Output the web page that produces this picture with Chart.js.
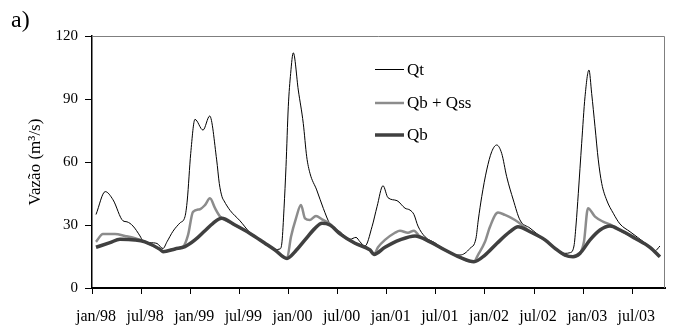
<!DOCTYPE html>
<html>
<head>
<meta charset="utf-8">
<script src="https://cdn.jsdelivr.net/npm/chart.js@4/dist/chart.umd.min.js"></script>
<style>
    body { margin: 0; background: #fff; }
    canvas { display: block; }
</style>
</head>
<body>
<canvas id="flowChart" width="674" height="335"></canvas>
<script>
// x is months since jan/98 (0 = start of jan/98), y is flow in m3/s
const tickMonths = [0, 6, 12, 18, 24, 30, 36, 42, 48, 54, 60, 66];
const tickLabels = ['jan/98', 'jul/98', 'jan/99', 'jul/99', 'jan/00', 'jul/00',
                    'jan/01', 'jul/01', 'jan/02', 'jul/02', 'jan/03', 'jul/03'];
const yTicks = [0, 30, 60, 90, 120];

const qtPoints = [
    [0.49, 35], [1.62, 45.9], [2.57, 42], [3.79, 32], [4.28, 31.5], [5.01, 29.5], [5.86, 24.8],
    [6.23, 22.4], [7.09, 21.6], [7.94, 21.2], [8.67, 18.8], [9.16, 22], [9.89, 27], [10.75, 31],
    [11.36, 34], [11.64, 41.9], [12.06, 64.1], [12.58, 80.3], [13.56, 75.2], [14.38, 81.9],
    [15.23, 61], [15.55, 49.8], [15.88, 43.5], [16.13, 41.5], [16.86, 37], [18.08, 32],
    [19.3, 26.4], [21.13, 21.5], [22.36, 18.3], [22.97, 18.6], [23.21, 22], [23.46, 38],
    [23.7, 57.8], [23.98, 86.3], [24.27, 102.2], [24.59, 112], [25.2, 94.3], [25.81, 78.4],
    [26.23, 62.5], [26.63, 54.6], [27.45, 46.7], [28.26, 37.9], [29.07, 30.5], [30.3, 26.8],
    [31.52, 23.2], [32.25, 24.1], [32.74, 22], [33.35, 20], [34.21, 29.2], [34.82, 38.7],
    [35.55, 48.7], [36.16, 43], [37.26, 41.6], [38.24, 38], [38.85, 37.1], [39.33, 35],
    [39.82, 29.5], [40.68, 24.4], [41.9, 21.5], [43.73, 16.5], [44.96, 15.7], [46.18, 18.9],
    [46.91, 23.7], [47.19, 32.4], [47.61, 43.5], [48.22, 56.2], [48.83, 64.9], [49.44, 68.1],
    [50.05, 64.1], [50.66, 53], [51.47, 41.9], [52.28, 32.4], [53.51, 28.5], [55.34, 22.8],
    [57.17, 17.5], [57.78, 16.5], [58.39, 16.8], [58.88, 20], [59.13, 30], [59.41, 45.1],
    [59.82, 68.9], [60.23, 91.1], [60.71, 103.8], [61.04, 92.7], [61.45, 76.8], [61.85, 61],
    [62.27, 49.8], [62.87, 41.9], [63.68, 35.6], [64.5, 30.5], [65.73, 26.8], [67.55, 21.5],
    [68.77, 17.7], [69.38, 20]
];

const qbQssPoints = [
    [0.49, 22], [1.34, 25.7], [2.81, 25.7], [4.03, 24.8], [5.25, 23.7], [6.47, 22], [8.31, 18.4],
    [8.67, 17.3], [10.14, 18.6], [11.12, 19.6], [11.73, 25.2], [12.34, 36.3], [13.19, 37.5],
    [13.8, 39.5], [14.41, 42.7], [15.03, 38], [15.64, 34], [15.88, 33.2], [17.47, 30], [19.3, 26],
    [21.13, 21.3], [22.36, 18.1], [23.82, 14.1], [24.31, 24.4], [24.92, 33.2], [25.53, 39.5],
    [26.02, 33.2], [26.63, 32.4], [27.36, 34.3], [28.1, 32.7], [29.07, 30.5], [30.3, 25.8],
    [32.13, 21.3], [33.96, 18.1], [34.45, 16], [34.94, 19.4], [35.79, 22.9], [37.01, 26.3],
    [37.62, 27.3], [38.6, 26.3], [39.33, 27.3], [40.07, 24.4], [41.29, 22], [43.12, 18.1],
    [44.96, 14.6], [46.66, 12.5], [47.15, 15.7], [48.01, 22], [48.62, 29.2], [49.6, 35.9],
    [50.45, 34.8], [51.67, 32.4], [52.53, 30], [53.51, 26.8], [55.34, 22.9], [56.56, 18.9],
    [57.78, 15.7], [58.76, 14.9], [59.61, 16.5], [60.1, 22], [60.59, 38], [61.45, 34],
    [62.43, 31.6], [63.28, 30.3], [64.5, 27.6], [66.33, 23.7], [68.16, 19.4], [69.38, 14.9]
];

const qbPoints = [
    [0.49, 19.4], [2.2, 21.6], [3.42, 23.2], [5.25, 22.9], [6.47, 22], [8.31, 18.4], [8.67, 17.3],
    [10.14, 18.6], [11.36, 19.7], [12.58, 22.9], [13.8, 27.3], [14.78, 30.8], [15.84, 33.2],
    [17.47, 30], [19.3, 26], [21.13, 21.3], [22.36, 18.1], [23.82, 14.1], [24.8, 17.3],
    [26.02, 22.9], [27.24, 28.4], [28.1, 30.8], [29.07, 30], [30.3, 25.8], [32.13, 21.3],
    [33.96, 18.1], [34.45, 16], [35.79, 19.4], [37.62, 22.9], [39.46, 24.8], [41.29, 22],
    [43.12, 18.1], [44.96, 14.6], [46.66, 12.5], [48.01, 15.7], [49.48, 21.3], [51.06, 26.8],
    [52.04, 29.2], [53.51, 26.8], [55.34, 22.9], [56.56, 18.9], [57.78, 15.7], [58.76, 14.9],
    [59.61, 16.5], [60.84, 22.9], [62.06, 27.6], [63.28, 29.5], [64.5, 27.6], [66.33, 23.7],
    [68.16, 19.4], [69.38, 14.9]
];

const serif = "'Liberation Serif', 'Times New Roman', serif";
const toXY = pts => pts.map(p => ({ x: p[0], y: p[1] }));

// frame (top/right), inner legend and panel label
const decorPlugin = {
    id: 'decor',
    afterDraw(chart) {
        const { ctx, chartArea: a } = chart;
        ctx.save();
        ctx.strokeStyle = '#7f7f7f';
        ctx.lineWidth = 1;
        ctx.beginPath();
        ctx.moveTo(a.left, a.top + 0.5);
        ctx.lineTo(a.right - 0.5, a.top + 0.5);
        ctx.lineTo(a.right - 0.5, a.bottom);
        ctx.stroke();

        const rows = [69.5, 103, 135];
        chart.data.datasets.forEach((ds, i) => {
            ctx.strokeStyle = ds.borderColor;
            ctx.lineWidth = ds.borderWidth;
            ctx.beginPath();
            ctx.moveTo(375, rows[i]);
            ctx.lineTo(404, rows[i]);
            ctx.stroke();
            ctx.fillStyle = '#000';
            ctx.font = '17px ' + serif;
            ctx.textBaseline = 'middle';
            ctx.fillText(ds.label, 407, Math.round(rows[i]) + 1);
        });

        ctx.font = '24px ' + serif;
        ctx.textBaseline = 'middle';
        ctx.fillText('a)', 11, 21);
        ctx.restore();
    }
};

new Chart(document.getElementById('flowChart'), {
    type: 'line',
    data: {
        datasets: [
            { label: 'Qt', data: toXY(qtPoints), borderColor: '#000000', borderWidth: 1, order: 2 },
            { label: 'Qb + Qss', data: toXY(qbQssPoints), borderColor: '#8c8c8c', borderWidth: 2.5, order: 1 },
            { label: 'Qb', data: toXY(qbPoints), borderColor: '#404040', borderWidth: 3.5, order: 0 }
        ]
    },
    options: {
        responsive: false,
        animation: false,
        devicePixelRatio: 1,
        layout: { padding: { left: 0, top: 36, right: 9, bottom: 0 } },
        elements: {
            point: { radius: 0 },
            line: { cubicInterpolationMode: 'monotone', fill: false }
        },
        plugins: {
            legend: { display: false },
            tooltip: { enabled: false }
        },
        scales: {
            x: {
                type: 'linear',
                min: 0,
                max: 70,
                afterBuildTicks: axis => { axis.ticks = tickMonths.map(v => ({ value: v })); },
                afterFit: axis => { axis.height = 47; },
                grid: { display: true, drawOnChartArea: false, drawTicks: true, tickLength: 6, color: '#000' },
                border: { display: true, color: '#000', width: 2 },
                ticks: {
                    autoSkip: false,
                    maxRotation: 0,
                    labelOffset: 4,
                    padding: 13,
                    color: '#000',
                    font: { family: serif, size: 16 },
                    callback: (v, i) => tickLabels[i]
                }
            },
            y: {
                min: 0,
                max: 120,
                afterBuildTicks: axis => { axis.ticks = yTicks.map(v => ({ value: v })); },
                afterFit: axis => { axis.width = 92; },
                grid: { display: true, drawOnChartArea: false, drawTicks: true, tickLength: 7, color: '#000' },
                border: { display: true, color: '#000', width: 1.5 },
                ticks: {
                    padding: 7,
                    color: '#000',
                    font: { family: serif, size: 15 }
                },
                title: {
                    display: true,
                    text: 'Vazão (m³/s)',
                    color: '#000',
                    font: { family: serif, size: 17 },
                    padding: { top: 25, bottom: 0 }
                }
            }
        }
    },
    plugins: [decorPlugin]
});
</script>
</body>
</html>
